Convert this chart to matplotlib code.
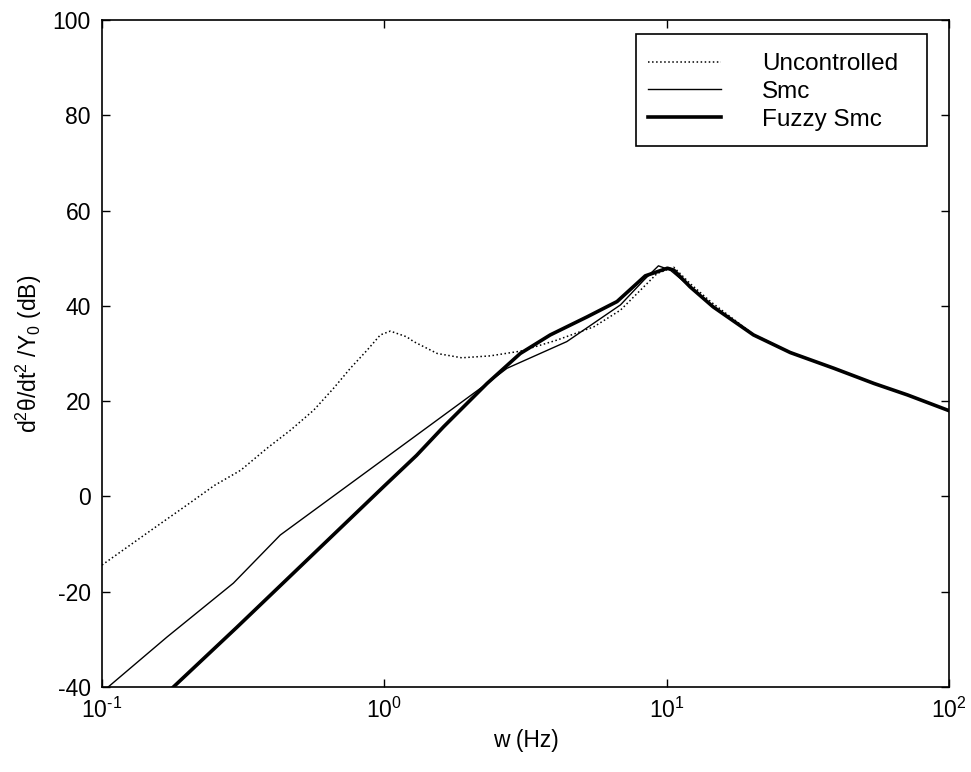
import matplotlib
matplotlib.use("Agg")
import matplotlib.pyplot as plt
from matplotlib.patches import Rectangle
from matplotlib.ticker import FixedLocator, FixedFormatter

plt.rcParams['font.family'] = ['Liberation Sans', 'DejaVu Sans']
plt.rcParams['mathtext.fontset'] = 'custom'
plt.rcParams['mathtext.rm'] = 'Liberation Sans'
plt.rcParams['mathtext.it'] = 'Liberation Sans:italic'
plt.rcParams['mathtext.bf'] = 'Liberation Sans:bold'
plt.rcParams['axes.unicode_minus'] = False

# Frequency response of the angular acceleration, three cases
freq_unc = [0.1, 0.15, 0.2, 0.25, 0.31, 0.384, 0.465, 0.562, 0.661, 0.758, 0.869,
            0.968, 1.05, 1.2, 1.27, 1.54, 1.88, 2.37, 3.04, 4.08, 5.52, 6.86, 8.3,
            9.25, 10.6, 12.1, 14.3, 20.3, 27.4, 39.1, 54.3, 71.3, 100]
db_unc = [-14.4, -7.0, -1.8, 2.3, 5.5, 10.1, 13.9, 18.1, 22.7, 26.9, 30.7,
          33.9, 34.7, 33.5, 32.5, 30.0, 29.1, 29.5, 30.5, 32.8, 35.6, 39.1, 44.0,
          46.8, 48.1, 44.7, 40.9, 34.0, 30.3, 26.9, 23.7, 21.3, 18.0]

freq_smc = [0.1, 0.17, 0.292, 0.428, 1.0, 2.31, 2.72, 4.43, 6.86, 8.3, 9.35,
            10.3, 12.1, 14.6, 20.3, 27.4, 39.1, 54.3, 71.3, 100]
db_smc = [-41.1, -29.5, -18.2, -8.1, 7.9, 23.7, 26.9, 32.5, 40.2, 45.4, 48.4,
          47.5, 44.0, 39.8, 33.9, 30.2, 26.9, 23.7, 21.3, 18.0]

freq_fuzzy = [0.1, 0.179, 0.3, 0.45, 0.7, 1.0, 1.3, 1.62, 2.31, 3.03, 3.87, 5.23,
              6.67, 8.4, 10.06, 10.6, 12.1, 14.6, 20.3, 27.4, 39.1, 54.3, 71.3, 100]
db_fuzzy = [-54.2, -40.0, -27.5, -17.5, -6.6, 2.2, 8.6, 14.6, 23.7, 30.0, 33.9, 37.7,
            40.9, 46.3, 47.9, 47.5, 44.0, 39.8, 33.9, 30.2, 26.9, 23.7, 21.3, 18.0]

labels = ['Uncontrolled', 'Smc', 'Fuzzy Smc']
x_ticks = [0.1, 1, 10, 100]
x_ticklabels = [r'10$^{\text{-}1}$', r'10$^{0}$', r'10$^{1}$', r'10$^{2}$']
y_ticks = [-40, -20, 0, 20, 40, 60, 80, 100]

W, H = 971, 772
fig = plt.figure(figsize=(W / 100, H / 100), dpi=100)
ax = fig.add_axes([102 / W, 85 / H, 847 / W, 667 / H])

ax.semilogx(freq_unc, db_unc, color='black', linestyle=':', linewidth=1.1, label=labels[0])
ax.semilogx(freq_smc, db_smc, color='black', linestyle='-', linewidth=1.0, label=labels[1])
ax.semilogx(freq_fuzzy, db_fuzzy, color='black', linestyle='-', linewidth=2.6, label=labels[2])

ax.set_xlim(0.1, 100)
ax.set_ylim(-40, 100)
ax.xaxis.set_major_locator(FixedLocator(x_ticks))
ax.xaxis.set_major_formatter(FixedFormatter(x_ticklabels))
ax.set_yticks(y_ticks)
ax.minorticks_off()
ax.tick_params(axis='both', which='major', direction='in', length=6, width=1.0,
               top=True, right=True, labelsize=16.5, pad=8)
for sp in ax.spines.values():
    sp.set_linewidth(1.2)

ax.set_xlabel('w (Hz)', fontsize=16.5, labelpad=4)
ax.set_ylabel(r'd$^2$θ/dt$^2$ /Y$_0$ (dB)', fontsize=16.5, labelpad=6)

# Legend entries without their own frame; a plain box is drawn behind them
leg = ax.legend(loc='upper left', bbox_to_anchor=(648 / W, 1 - 53 / H),
                bbox_transform=fig.transFigure, fontsize=17.5, frameon=False,
                handlelength=3.0, handletextpad=1.68, borderpad=0.0,
                labelspacing=0.24, borderaxespad=0.0)
box = Rectangle((636 / W, 1 - 146 / H), (927 - 636) / W, (146 - 34) / H,
                transform=fig.transFigure, facecolor='white', edgecolor='black',
                linewidth=1.2, zorder=4, clip_on=False)
ax.add_patch(box)
leg.set_zorder(5)

fig.savefig('out.png', dpi=100)
